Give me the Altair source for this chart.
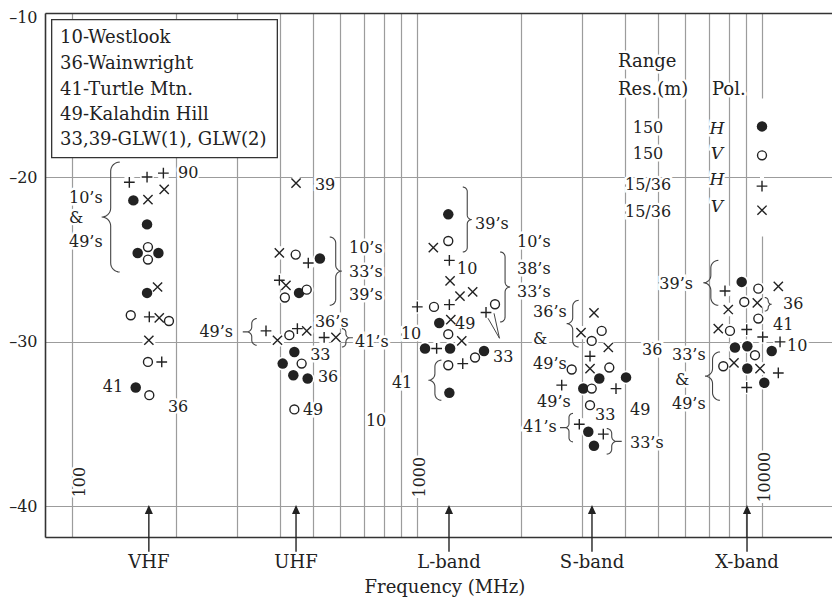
import math
import altair as alt
import pandas as pd

FONT = "DejaVu Serif"
INK = "#222222"
GRID = "#9c9c9c"
FRAME = "#333333"

# ---------------- axes ----------------
X_DOMAIN = [83.5, 15955]          # MHz (log)
Y_DOMAIN = [-41.88, -10.0]        # dB
PLOT_W, PLOT_H = 787, 524
GRID_FREQS = [100, 200, 300, 400, 500, 600, 700, 800, 900,
              1000, 2000, 3000, 4000, 5000, 6000, 7000, 8000, 9000, 10000]
Y_TICKS = [-10, -20, -30, -40]

# ---------------- data (frequency MHz, value dB) ----------------
# 150 m range resolution, H pol (filled circles)
h150_f = [150.6, 165, 155, 178, 165, 153,
          523, 455, 441, 408, 438, 482,
          1232, 1160, 1055, 1247, 1564, 1241,
          3376, 4035, 3034, 3137, 3258,
          8733, 8350, 9066, 10670, 9066, 10155]
h150_db = [-21.4, -22.86, -24.6, -24.6, -27.03, -32.78,
           -24.94, -27.03, -30.62, -31.33, -32.04, -32.24,
           -22.25, -28.86, -30.41, -30.41, -30.56, -33.11,
           -32.24, -32.17, -32.85, -35.48, -36.33,
           -26.36, -30.35, -30.27, -30.56, -31.63, -32.5]
# 150 m, V pol (open circles)
v150_f = [166, 166, 148, 191, 166, 167.5,
          445, 479, 414, 426.5, 463, 441,
          1232, 1120, 1683, 1232, 1473, 1232,
          3430, 3209, 2808, 3609, 3209, 3173,
          9756, 8885, 9756, 8075, 9543, 7722]
v150_db = [-24.24, -25.0, -28.39, -28.74, -31.23, -33.25,
           -24.7, -26.83, -27.31, -29.6, -31.33, -34.12,
           -23.87, -27.88, -27.72, -29.54, -30.96, -31.43,
           -29.34, -29.95, -31.69, -31.57, -32.85, -33.86,
           -26.77, -27.58, -28.59, -29.34, -30.82, -31.49]
# 15/36 m, H pol (plus)
h15_f = [146.6, 165, 184, 167.5, 182,
         484, 399, 365, 450, 538,
         1241, 1002, 1241, 1585, 1140, 1357,
         3173, 2627, 3774, 2954, 3467,
         7811, 9030, 10046, 11280, 11150, 9030]
h15_db = [-20.3, -19.98, -19.74, -28.49, -31.23,
          -25.21, -26.26, -29.34, -29.2, -29.74,
          -25.05, -27.88, -27.74, -28.22, -30.41, -31.33,
          -30.88, -32.64, -32.85, -35.02, -35.62,
          -26.91, -29.26, -29.71, -30.01, -31.9, -32.78]
# 15/36 m, V pol (cross)
v15_f = [166, 185, 177, 179, 167,
         446, 399, 417, 394, 479, 582,
         1115, 1247, 1332, 1450, 1253, 1348,
         3258, 2988, 3585, 3173,
         11150, 7984, 9692, 7468, 8294, 9868]
v15_db = [-21.36, -20.73, -26.67, -28.55, -29.91,
          -20.35, -24.6, -26.57, -29.91, -29.34, -29.74,
          -24.27, -26.3, -27.23, -26.97, -28.65, -29.95,
          -28.25, -29.44, -30.35, -31.63,
          -26.63, -28.04, -27.64, -29.2, -31.29, -31.63]

# symbol key (top right)
key_kind = ["H150", "V150", "H15", "V15"]
key_f = [10000, 10000, 10000, 10000]
key_db = [-16.9, -18.66, -20.53, -22.0]

# ---------------- annotations ----------------
box_lines = ["10-Westlook", "36-Wainwright", "41-Turtle Mtn.", "49-Kalahdin Hill",
             "33,39-GLW(1), GLW(2)"]
box_f = 92.3
box_db = [-11.51, -13.09, -14.67, -16.19, -17.75]
box_rect = {"f": 87.3, "f2": 393.7, "db": -10.4, "db2": -18.8}

key_head = ["Range", "Res.(m)", "Pol."]
key_head_f = [3825, 3825, 7162]
key_head_db = [-12.99, -14.67, -14.67]
key_res = ["150", "150", "15/36", "15/36"]
key_res_f = 4673
key_res_db = [-16.98, -18.6, -20.44, -22.11]
key_pol = ["H", "V", "H", "V"]
key_pol_f = 7406
key_pol_db = [-17.04, -18.6, -20.18, -21.81]

lab_t = ["90", "41", "36", "10\u2019s", "&", "49\u2019s",
         "39", "10\u2019s", "33\u2019s", "39\u2019s", "36\u2019s", "49\u2019s", "41\u2019s", "33", "36", "49", "10", "41",
         "39\u2019s", "10", "10\u2019s", "38\u2019s", "33\u2019s", "49", "10", "33",
         "36\u2019s", "&", "49\u2019s", "49\u2019s", "41\u2019s", "33", "49", "33\u2019s", "36",
         "39\u2019s", "36", "41", "10", "33\u2019s", "&", "49\u2019s"]
lab_f = [203, 131.5, 203, 98, 98, 98,
         506, 635, 635, 635, 506, 293, 661, 490, 516, 467, 761, 905,
         1473, 1306, 1949, 1949, 1949, 1289, 961, 1661,
         2169, 2169, 2169, 2228, 2029, 3281, 4144, 4144, 4489,
         6310, 11510, 10760, 11820, 5483, 5595, 5483]
lab_db = [-19.74, -32.77, -33.96, -21.28, -22.49, -23.93,
          -20.49, -24.27, -25.76, -27.17, -28.8, -29.4, -30.01, -30.82, -32.14, -34.16, -34.83, -32.52,
          -22.81, -25.55, -23.93, -25.55, -26.97, -28.94, -29.5, -30.92,
          -28.19, -29.81, -31.33, -33.66, -35.18, -34.47, -34.16, -36.15, -30.52,
          -26.46, -27.68, -29.0, -30.27, -30.82, -32.34, -33.76]
lab_a = ["left", "center", "center", "left", "left", "left",
         "left", "left", "left", "left", "left", "right", "left", "left", "left", "left", "center", "center",
         "left", "left", "left", "left", "left", "left", "center", "left",
         "left", "left", "left", "left", "left", "left", "left", "left", "left",
         "right", "left", "left", "left", "left", "left", "left"]

decade_t = ["100", "1000", "10000"]
decade_f = [105.5, 1020, 10200]
decade_db = [-38.54, -38.24, -38.24]

band_t = ["VHF", "UHF", "L-band", "S-band", "X-band"]
band_f = [167, 446, 1238, 3215, 9048]
arrow_tip_db = -40.21
arrow_tail_db = -42.77
band_label_db = -43.48
title_t = "Frequency (MHz)"
title_f = 1205
title_db = -44.98

# braces: tip frequency, top dB, bottom dB, side (+1 "}" , -1 "{"), width px, tip dash px
braces = [
    (121.9, -19.07, -25.76, -1, 18, 0),
    (605, -23.63, -27.78, 1, 12, 0),
    (321, -28.59, -30.21, -1, 10, 4),
    (639, -29.2, -30.32, 1, 8, 3),
    (1441, -20.59, -24.54, 1, 9, 0),
    (1861, -24.54, -28.8, 1, 10, 0),
    (1079, -31.12, -33.56, -1, 13, 0),
    (2716, -27.48, -30.32, -1, 12, 0),
    (2685, -34.36, -36.09, -1, 8, 5),
    (3792, -35.28, -36.84, 1, 10, 5),
    (6760, -25.05, -27.78, -1, 15, 0),
    (10670, -27.31, -28.13, 1, 7, 0),
    (6837, -30.62, -33.56, -1, 15, 0),
]
# pointer lines (start f, start dB, end f, end dB)
pointers = [(1606, -28.57, 1734, -29.79), (1672, -28.27, 1734, -29.79)]

# ---------------- helpers ----------------
xs = alt.Scale(type="log", domain=X_DOMAIN, nice=False)
ys = alt.Scale(domain=Y_DOMAIN, nice=False, zero=False)
X_AXIS = alt.Axis(values=GRID_FREQS, grid=True, gridColor=GRID, gridWidth=1.2,
                  labels=False, ticks=False, domain=True, domainColor=FRAME,
                  domainWidth=1.6, title=None)
Y_AXIS = alt.Axis(values=Y_TICKS, grid=True,
                  gridColor={"condition": {"test": "datum.value === -10", "value": FRAME},
                             "value": GRID},
                  gridWidth={"condition": {"test": "datum.value === -10", "value": 1.6},
                             "value": 1.2},
                  ticks=False, domain=True, domainColor=FRAME, domainWidth=1.6,
                  title=None, labelFont=FONT, labelFontSize=16, labelColor=INK,
                  labelPadding=8,
                  labelOffset={"condition": {"test": "datum.value === -10", "value": 4},
                               "value": 0},
                  labelExpr="'\u2013' + format(abs(datum.value), 'd')")
PX_PER_DEC = PLOT_W / (math.log10(X_DOMAIN[1]) - math.log10(X_DOMAIN[0]))
PX_PER_DB = PLOT_H / (Y_DOMAIN[1] - Y_DOMAIN[0])


def XE(field="f"):
    return alt.X(f"{field}:Q", scale=xs, axis=X_AXIS)


def YE(field="db"):
    return alt.Y(f"{field}:Q", scale=ys, axis=Y_AXIS)


def brace_rows(bid, tip_f, top, bot, side, width, ext):
    h = (top - bot) * PX_PER_DB
    m = width / 2.0
    r = min(m, h / 4.0)
    pts = [(width, 0.0)]

    def arc(cx, cy, a0, a1, n=8):
        for i in range(n + 1):
            a = math.radians(a0 + (a1 - a0) * i / n)
            pts.append((cx + r * math.cos(a), cy + r * math.sin(a)))

    arc(m + r, r, -90, -180)
    arc(m - r, h / 2 - r, 0, 90)
    pts.append((0.0, h / 2))
    if ext:
        pts.append((-ext, h / 2))
        pts.append((0.0, h / 2))
    arc(m - r, h / 2 + r, -90, 0)
    arc(m + r, h - r, 180, 90)
    pts.append((width, h))
    rows = []
    for k, (d, y) in enumerate(pts):
        rows.append({"id": bid, "k": k,
                     "f": tip_f * 10 ** (-side * d / PX_PER_DEC),
                     "db": top - y / PX_PER_DB})
    return rows


def text_layers(labels, fs, dbs, aligns, size, italic=False, angle=0, halo=True):
    df = pd.DataFrame({"t": labels, "f": fs, "db": dbs, "a": aligns})
    halos, inks = [], []
    for a in ["left", "center", "right"]:
        sub = df[df.a == a]
        if sub.empty:
            continue
        base = dict(font=FONT, fontSize=size, align=a, baseline="middle", clip=False)
        if italic:
            base["fontStyle"] = "italic"
        if angle:
            base["angle"] = angle
        enc = dict(x=XE(), y=YE(), text="t:N")
        if halo:
            halos.append(alt.Chart(sub).mark_text(fill="white", stroke="white",
                                                  strokeWidth=5, **base).encode(**enc))
        inks.append(alt.Chart(sub).mark_text(fill=INK, **base).encode(**enc))
    return halos, inks


# ---------------- layers ----------------
PLUS = "M-1,0L1,0M0,-1L0,1"
CROSS = "M-1,-1L1,1M-1,1L1,-1"
TRI = "M0,-1L0.9,1L-0.9,1Z"

pts = pd.concat([
    pd.DataFrame({"f": h150_f, "db": h150_db, "kind": "H150"}),
    pd.DataFrame({"f": v150_f, "db": v150_db, "kind": "V150"}),
    pd.DataFrame({"f": h15_f, "db": h15_db, "kind": "H15"}),
    pd.DataFrame({"f": v15_f, "db": v15_db, "kind": "V15"}),
    pd.DataFrame({"f": key_f, "db": key_db, "kind": key_kind}),
], ignore_index=True)

box = alt.Chart(pd.DataFrame([box_rect])).mark_rect(
    fill="white", stroke=FRAME, strokeWidth=1.3
).encode(x=XE(), x2="f2:Q", y=YE(), y2="db2:Q")

key_mask = alt.Chart(pd.DataFrame({"f": [10000], "db": [key_db[0] + 1.7], "db2": [key_db[-1] - 1.6]})).mark_rule(
    color="white", strokeWidth=4).encode(x=XE(), y=YE(), y2="db2:Q")

halo_pts = alt.Chart(pts).mark_point(shape="circle", filled=True, fill="white",
                                     size=190, opacity=1).encode(x=XE(), y=YE())

brace_df = pd.DataFrame([r for i, b in enumerate(braces) for r in brace_rows(i, *b)])
brace_layer = alt.Chart(brace_df).mark_line(color="#444444", strokeWidth=1.1, clip=False).encode(
    x=XE(), y=YE(), detail="id:N", order="k:Q")

ptr_df = pd.DataFrame([{"id": i, "f": p[0], "db": p[1], "f2": p[2], "db2": p[3]}
                       for i, p in enumerate(pointers)])
ptr_layer = alt.Chart(ptr_df).mark_rule(color="#444444", strokeWidth=1.0).encode(
    x=XE(), y=YE(), x2="f2:Q", y2="db2:Q")

h1, t1 = text_layers(box_lines, [box_f] * 5, box_db, ["left"] * 5, 18, halo=False)
h2, t2 = text_layers(key_head, key_head_f, key_head_db, ["left"] * 3, 18)
h3, t3 = text_layers(key_res, [key_res_f] * 4, key_res_db, ["center"] * 4, 16)
h4, t4 = text_layers(key_pol, [key_pol_f] * 4, key_pol_db, ["center"] * 4, 17, italic=True)
h5, t5 = text_layers(lab_t, lab_f, lab_db, lab_a, 16)
h6, t6 = text_layers(decade_t, decade_f, decade_db, ["center"] * 3, 16, angle=270)
h7, t7 = text_layers(band_t, band_f, [band_label_db] * 5, ["center"] * 5, 18, halo=False)
h8, t8 = text_layers([title_t], [title_f], [title_db], ["center"], 18, halo=False)

band_df = pd.DataFrame({"f": band_f, "db": arrow_tip_db, "db_tail": arrow_tail_db})
shaft = alt.Chart(band_df).mark_rule(color=INK, strokeWidth=1.4, clip=False).encode(
    x=XE(), y=YE(), y2="db_tail:Q")
head = alt.Chart(band_df).mark_point(shape=TRI, size=81, filled=True, fill=INK,
                                     strokeWidth=0, clip=False, opacity=1).encode(x=XE(), y=YE())


def sym(kind, **kw):
    return alt.Chart(pts).transform_filter(alt.datum.kind == kind).mark_point(
        opacity=1, **kw).encode(x=XE(), y=YE())


s_filled = sym("H150", shape="circle", filled=True, fill=INK, size=110, strokeWidth=0)
s_open = sym("V150", shape="circle", filled=False, fill="white", stroke=INK, size=80, strokeWidth=1.4)
s_plus = sym("H15", shape=PLUS, filled=False, stroke=INK, size=115, strokeWidth=1.4)
s_cross = sym("V15", shape=CROSS, filled=False, stroke=INK, size=85, strokeWidth=1.4)

layers = [box, key_mask, halo_pts] + h2 + h3 + h4 + h5 + h6 + [brace_layer, ptr_layer] \
    + t1 + t2 + t3 + t4 + t5 + t6 + t7 + t8 + [shaft, head, s_filled, s_open, s_plus, s_cross]

chart = alt.layer(*layers).properties(
    width=PLOT_W, height=PLOT_H,
    padding={"left": 37, "top": 5, "right": 0, "bottom": 61},
    autosize=alt.AutoSizeParams(type="none"),
).configure_view(strokeWidth=0).configure(background="white")

chart.save("out.html", embed_options={"renderer": "svg", "actions": False})
